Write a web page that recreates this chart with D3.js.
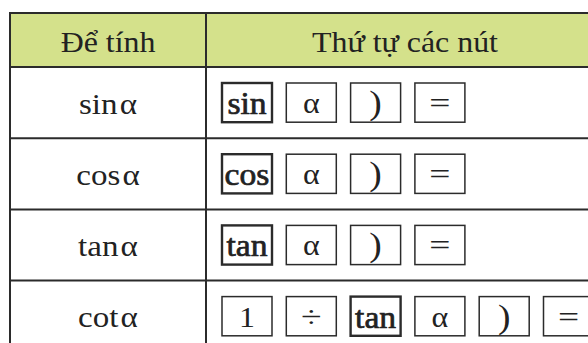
<!DOCTYPE html>
<html><head><meta charset="utf-8">
<script src="https://cdn.jsdelivr.net/npm/d3@7"></script>
<style>html,body{margin:0;padding:0;background:#fff;overflow:hidden}</style>
</head><body><svg id="c" width="588" height="343"></svg>
<script>
const headers = ["Để tính", "Thứ tự các nút"];
const rowFunctions = ["sin", "cos", "tan", "cot"];
const angleSymbol = "α";
const keySequences = [
  ["sin", "α", ")", "="],
  ["cos", "α", ")", "="],
  ["tan", "α", ")", "="],
  ["1", "÷", "tan", "α", ")", "="]
];
const functionKeys = ["sin", "cos", "tan"];

const svg = d3.select("#c");
const font = "'Liberation Serif','Times New Roman',serif";
const ink = "#222";
const line = "#2b2b2b";

const tableLeft = 10, colSplit = 206, tableRight = 604;
const headerTop = 13, headerBottom = 67, rowH = 71.2;

const y = d3.scaleBand().domain(d3.range(rowFunctions.length))
  .range([headerBottom, headerBottom + rowH * rowFunctions.length]).padding(0);
const kx = d3.scaleLinear().domain([0, 1]).range([222, 286.3]);
const keyW = 50, keyPad = 16;

// header fill
svg.append("rect").attr("x", tableLeft).attr("y", headerTop)
  .attr("width", tableRight - tableLeft).attr("height", headerBottom - headerTop)
  .attr("fill", "#d4e18b");

// grid lines
const g = svg.append("g").attr("stroke", line).attr("stroke-width", 2);
g.append("line").attr("x1", tableLeft - 1).attr("x2", tableRight).attr("y1", headerTop).attr("y2", headerTop);
g.append("line").attr("x1", tableLeft - 1).attr("x2", tableRight).attr("y1", headerBottom).attr("y2", headerBottom);
rowFunctions.forEach((d, i) => {
  if (i > 0) g.append("line").attr("x1", tableLeft).attr("x2", tableRight)
    .attr("y1", y(i)).attr("y2", y(i));
});
g.append("line").attr("x1", tableLeft).attr("x2", tableLeft).attr("y1", headerTop).attr("y2", 360);
g.append("line").attr("x1", colSplit).attr("x2", colSplit).attr("y1", headerTop).attr("y2", 360);

// headers
const hx = [(tableLeft + colSplit) / 2, (colSplit + tableRight) / 2];
headers.forEach((h, i) => {
  svg.append("text").attr("transform", `translate(${hx[i]},52) scale(1.1,1)`)
    .attr("text-anchor", "middle").attr("font-family", font).attr("font-size", 29)
    .attr("fill", ink).text(h);
});

// row labels
rowFunctions.forEach((r, i) => {
  const cy = y(i) + y.bandwidth() / 2;
  const t = svg.append("text").attr("transform", `translate(${hx[0]},${cy + 11}) scale(1.1,1)`)
    .attr("text-anchor", "middle").attr("font-family", font).attr("font-size", 30)
    .attr("fill", ink);
  t.append("tspan").text(r);
  t.append("tspan").attr("dx", 2).text(angleSymbol);
});

// keys
keySequences.forEach((seq, i) => {
  const top = y(i) + keyPad, h = y.bandwidth() - 2 * keyPad;
  seq.forEach((k, j) => {
    const x0 = kx(j);
    const fn = functionKeys.includes(k);
    const kg = svg.append("g");
    kg.append("rect").attr("x", x0).attr("y", top).attr("width", keyW).attr("height", h)
      .attr("fill", "none").attr("stroke", line).attr("stroke-width", fn ? 2.4 : 1.5);
    let fs = 29, dy = 30, sx = 1.1;
    if (fn) { fs = 32; sx = 1.05; dy = 31; }
    if (k === "=" || k === "÷") { fs = 30; dy = 30; sx = 1.25; }
    if (k === ")") { fs = 34; dy = 31; }
    const t = kg.append("text")
      .attr("transform", `translate(${x0 + keyW / 2},${top + dy}) scale(${sx},1)`)
      .attr("text-anchor", "middle").attr("font-family", font).attr("font-size", fs)
      .attr("fill", ink).text(k);
    if (fn) t.attr("stroke", ink).attr("stroke-width", 0.7);
  });
});
</script></body></html>
